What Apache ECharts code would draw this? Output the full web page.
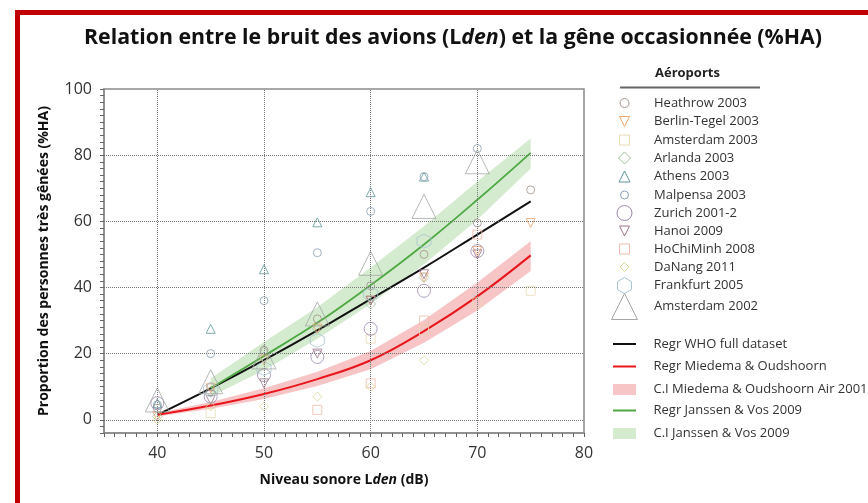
<!DOCTYPE html>
<html>
<head>
<meta charset="utf-8" />
<title>Bruit des avions et gêne</title>
<script src="https://cdn.jsdelivr.net/npm/echarts@6/dist/echarts.min.js"></script>
</head>
<body style="margin: 0">
<div id="container" style="width: 868px; height: 503px"></div>
<script>
    // --- data ---
    var curveX = [40, 45, 50, 55, 60, 65, 70, 75];
    var whoValues = [1.5, 9.5, 18, 27, 36.5, 46, 56, 66];
    var miedemaValues = [1.5, 4.3, 7.8, 12.3, 18, 26.8, 37.3, 49.7];
    var miedemaLow = [1.0, 3.3, 6.3, 10.2, 15.3, 23.3, 33, 45];
    var miedemaHigh = [2.0, 5.4, 9.5, 14.5, 20.8, 30.2, 41.5, 54];

    var janssenX = [45, 50, 55, 60, 65, 70, 75];
    var janssenValues = [9.5, 19.3, 29.3, 40.7, 53, 66.5, 80.7];
    var janssenLow = [7, 15, 24.5, 35, 47, 60.5, 76];
    var janssenHigh = [12.5, 23.5, 34, 46, 58.5, 72, 85];

    var airportNames = ['Heathrow 2003', 'Berlin-Tegel 2003', 'Amsterdam 2003', 'Arlanda 2003', 'Athens 2003',
        'Malpensa 2003', 'Zurich 2001-2', 'Hanoi 2009', 'HoChiMinh 2008', 'DaNang 2011', 'Frankfurt 2005', 'Amsterdam 2002'];

    var heathrow = [[40, 3.5], [45, 10], [50, 21], [55, 30.5], [60, 40.5], [65, 50], [70, 59.5], [75, 69.5]];
    var berlinTegel = [[40, 1], [45, 9.5], [50, 18], [55, 27.5], [60, 36], [65, 43], [70, 51], [75, 59.5]];
    var amsterdam2003 = [[45, 2], [60, 24.5], [65, 27], [70, 35.5], [75, 39]];
    var arlanda = [[40, 1], [45, 8.5], [50, 19], [55, 27.5], [60, 35], [65, 43]];
    var athens = [[40, 5], [45, 27.5], [50, 45.5], [55, 59.7], [60, 68.8], [65, 73.5]];
    var malpensa = [[40, 4.5], [45, 20], [50, 36], [55, 50.5], [60, 63], [65, 73.5], [70, 82]];
    var zurich = [[40, 5], [45, 7], [50, 13.5], [55, 19], [60, 27.5], [65, 39], [70, 51]];
    var hanoi = [[45, 6], [50, 11], [55, 20], [60, 36], [65, 44], [70, 50]];
    var hoChiMinh = [[55, 3], [60, 11], [65, 30], [70, 56]];
    var daNang = [[40, 0], [45, 4], [50, 4], [55, 7], [60, 10], [65, 18]];
    var frankfurt = [[45, 9], [50, 15.5], [55, 24], [60, 38], [65, 54]];
    var amsterdam2002 = [[40, 6], [45, 11.5], [50, 19], [55, 32], [60, 47.3], [65, 64.5], [70, 78]];

    var airportData = [heathrow, berlinTegel, amsterdam2003, arlanda, athens, malpensa,
        zurich, hanoi, hoChiMinh, daNang, frankfurt, amsterdam2002];

    var xGridTicks = [40, 50, 60, 70];
    var yGridTicks = [0, 20, 40, 60, 80];

    // --- styles ---
    var TRI = 'path://M5,0 L10,10 L0,10 Z';
    var TRI_DOWN = 'path://M0,0 L10,0 L5,10 Z';
    var SQUARE = 'path://M0,0 L10,0 L10,10 L0,10 Z';
    var DIAMOND = 'path://M5,0 L10,5 L5,10 L0,5 Z';
    var HEXAGON = 'path://M5,0 L10,2.9 L10,8.7 L5,11.5 L0,8.7 L0,2.9 Z';

    var airportSymbols = ['circle', TRI_DOWN, SQUARE, DIAMOND, TRI, 'circle', 'circle', TRI_DOWN, SQUARE, DIAMOND, HEXAGON, TRI];
    var airportColors = ['#a39389', '#eea66e', '#e6dbb3', '#9fc19f', '#5f9797', '#8a9fb3',
        '#9c87ad', '#9c7389', '#f1bca8', '#d9d69a', '#a8c4d0', '#a2a7a2'];
    var plotSizes = [8, 9, 9, 10, 9, 8, 13, 9, 9, 9, 14, 24];
    var legendSizes = [9, 10, 10, 12, 11, 8, 15, 10, 10, 9, 16, 26];
    var legendIconWidths = [9, 10, 10, 12, 11, 8, 15, 10, 10, 9, 14, 26];
    var legendRowY = [103, 121.5, 140, 158, 176.5, 195, 213, 231, 249, 267, 285, 306];

    var FONT = 'Open Sans';

    function pairs(xs, ys) {
        return xs.map(function (x, i) { return [x, ys[i]]; });
    }

    var series = [];

    // dotted grid lines
    series.push({
        type: 'line', data: [], silent: true, z: 1,
        markLine: {
            silent: true, symbol: ['none', 'none'], label: { show: false },
            lineStyle: { type: 'dotted', color: '#777', width: 1 },
            data: yGridTicks.map(function (v) { return { yAxis: v }; })
                .concat(xGridTicks.map(function (v) { return { xAxis: v }; }))
        }
    });

    // confidence bands drawn as polygons through the axes
    function band(name, xs, low, high, color) {
        series.push({
            name: name, type: 'custom', silent: true, z: 2,
            itemStyle: { color: color },
            encode: { x: 0, y: 1 },
            data: pairs(xs, high),
            renderItem: function (params, api) {
                if (params.dataIndex !== 0) return;
                var pts = [];
                xs.forEach(function (x, i) { pts.push(api.coord([x, high[i]])); });
                for (var i = xs.length - 1; i >= 0; i--) pts.push(api.coord([xs[i], low[i]]));
                return { type: 'polygon', shape: { points: pts }, style: { fill: color } };
            }
        });
    }
    band('C.I Miedema & Oudshoorn Air 2001', curveX, miedemaLow, miedemaHigh, '#f8c5c7');
    band('C.I Janssen & Vos 2009', janssenX, janssenLow, janssenHigh, '#d4ebcf');

    function curve(name, xs, ys, color, width) {
        series.push({
            name: name, type: 'line', smooth: 0.4, symbol: 'none', silent: true, z: 3,
            lineStyle: { color: color, width: width }, itemStyle: { color: color },
            data: pairs(xs, ys)
        });
    }
    curve('Regr WHO full dataset', curveX, whoValues, '#111111', 2);
    curve('Regr Miedema & Oudshoorn', curveX, miedemaValues, '#e8161b', 2);
    curve('Regr Janssen & Vos 2009', janssenX, janssenValues, '#4ea843', 1.8);

    airportNames.forEach(function (name, i) {
        series.push({
            name: name, type: 'scatter', z: 4, silent: true,
            symbol: airportSymbols[i], symbolSize: plotSizes[i],
            itemStyle: { color: 'rgba(0,0,0,0)', borderColor: airportColors[i], borderWidth: 1 },
            data: airportData[i]
        });
    });

    // legends: one component per row (icon centre x ~624, text x ~653.5)
    var legendText = { fontFamily: FONT, fontSize: 13, color: '#333', lineHeight: 16 };
    var legends = [];
    airportNames.forEach(function (name, i) {
        var s = legendSizes[i];
        legends.push({
            left: 624 - legendIconWidths[i] / 2, top: legendRowY[i] - Math.max(s, 16) / 2, padding: 0,
            itemWidth: 49, itemHeight: s, symbolKeepAspect: true, selectedMode: false,
            textStyle: legendText,
            data: [{
                name: name, icon: airportSymbols[i],
                itemStyle: { color: 'rgba(0,0,0,0)', borderColor: airportColors[i], borderWidth: 1, opacity: 1 }
            }]
        });
    });

    var regrNames = ['Regr WHO full dataset', 'Regr Miedema & Oudshoorn', 'C.I Miedema & Oudshoorn Air 2001',
        'Regr Janssen & Vos 2009', 'C.I Janssen & Vos 2009'];
    var regrColors = ['#111111', '#e8161b', '#f8c5c7', '#4ea843', '#d4ebcf'];
    var regrIcons = ['path://M0,0 L23,0 L23,2 L0,2 Z', 'path://M0,0 L23,0 L23,2 L0,2 Z', 'path://M0,0 L23,0 L23,11 L0,11 Z',
        'path://M0,0 L23,0 L23,2 L0,2 Z', 'path://M0,0 L23,0 L23,11 L0,11 Z'];
    var regrHeights = [2, 2, 11, 2, 11];
    var regrRowY = [344, 366.5, 389.5, 410.5, 433.5];
    regrNames.forEach(function (name, i) {
        legends.push({
            left: 613, top: regrRowY[i] - 8, padding: 0,
            itemWidth: 48, itemHeight: regrHeights[i], symbolKeepAspect: true, selectedMode: false,
            textStyle: legendText,
            data: [{ name: name, icon: regrIcons[i], itemStyle: { color: regrColors[i], borderWidth: 0, opacity: 1 } }]
        });
    });

    var myChart = echarts.init(document.getElementById('container'));
    var option = {
        animation: false,
        backgroundColor: '#fff',
        title: [{
            text: 'Relation entre le bruit des avions (L{i|den}) et la gêne occasionnée (%HA)',
            left: 84, top: 27, padding: 0,
            textStyle: {
                fontFamily: FONT, fontSize: 21.3, fontWeight: 'bold', color: '#111',
                rich: { i: { fontFamily: FONT, fontSize: 21.3, fontWeight: 'bold', fontStyle: 'italic', color: '#111' } }
            }
        }, {
            text: 'Aéroports', left: 655, top: 67, padding: 0,
            textStyle: { fontFamily: FONT, fontSize: 13, fontWeight: 'bold', color: '#222' }
        }],
        legend: legends,
        grid: {
            left: 104, right: 284, top: 89, bottom: 70,
            show: true, borderColor: '#8a8a8a', borderWidth: 1.5,
            outerBoundsMode: 'none'
        },
        xAxis: {
            type: 'value', min: 35, max: 80, interval: 1,
            name: 'Niveau sonore L{i|den} (dB)', nameLocation: 'middle', nameGap: 40,
            nameTextStyle: {
                fontFamily: FONT, fontSize: 14, fontWeight: 'bold', color: '#111',
                rich: { i: { fontFamily: FONT, fontSize: 14, fontWeight: 'bold', fontStyle: 'italic', color: '#111' } }
            },
            axisLine: { show: true, onZero: false, lineStyle: { color: '#8a8a8a', width: 1.5 } },
            axisTick: { show: true, length: 4, lineStyle: { color: '#666' } },
            splitLine: { show: false },
            axisLabel: {
                margin: 12, fontFamily: FONT, fontSize: 16, color: '#333',
                formatter: function (v) { return v % 10 === 0 ? String(v) : ''; }
            }
        },
        yAxis: {
            type: 'value', min: -4, max: 100, interval: 2,
            name: 'Proportion des personnes très gênées (%HA)', nameLocation: 'middle', nameGap: 53,
            nameTextStyle: { fontFamily: FONT, fontSize: 14, fontWeight: 'bold', color: '#111' },
            axisLine: { show: true, onZero: false, lineStyle: { color: '#8a8a8a', width: 1.5 } },
            axisTick: { show: true, length: 4, lineStyle: { color: '#666' } },
            splitLine: { show: false },
            axisLabel: {
                margin: 12, fontFamily: FONT, fontSize: 16, color: '#333',
                formatter: function (v) { return v % 20 === 0 ? String(v) : ''; }
            }
        },
        graphic: [{
            type: 'line', silent: true,
            shape: { x1: 620, y1: 87.5, x2: 760, y2: 87.5 },
            style: { stroke: '#666', lineWidth: 2 }
        }, {
            type: 'rect', silent: true,
            shape: { x: 17.5, y: 12.5, width: 900, height: 600 },
            style: { fill: 'none', stroke: '#c00000', lineWidth: 5 }
        }],
        series: series
    };
    myChart.setOption(option);
</script>
</body>
</html>
